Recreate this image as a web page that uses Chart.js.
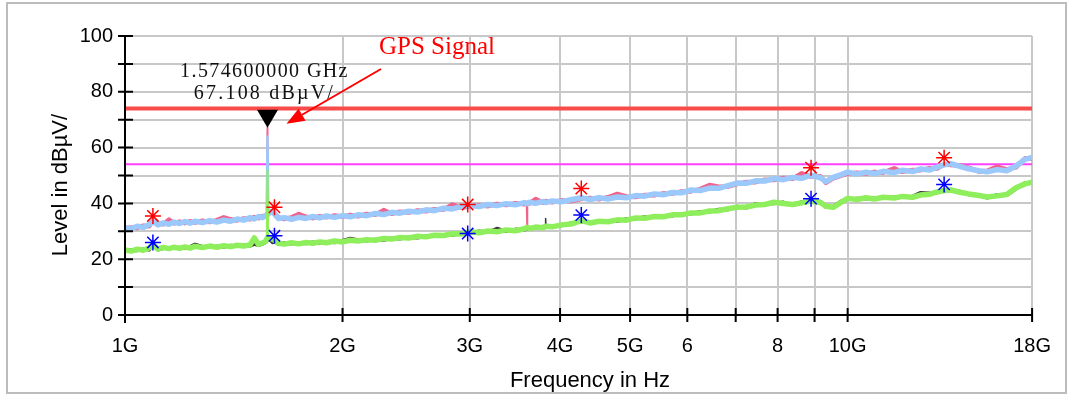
<!DOCTYPE html>
<html>
<head>
<meta charset="utf-8">
<title>Spektrum 1-18 GHz</title>
<script src="https://cdn.jsdelivr.net/npm/chart.js@4/dist/chart.umd.min.js"></script>
<style>
  body { margin: 0; background: #fff; }
  #wrap { width: 1070px; height: 397px; }
</style>
</head>
<body>
<div id="wrap"><canvas id="spektrum" width="1070" height="397"></canvas></div>

<script>
// frequenz in GHz, pegel in dBuV
var freqGHz = [1.00, 1.02, 1.04, 1.06, 1.08, 1.093, 1.11, 1.13, 1.15, 1.17,
  1.19, 1.21, 1.23, 1.25, 1.28, 1.31, 1.34, 1.37, 1.40, 1.43,
  1.46, 1.49, 1.51, 1.53, 1.55, 1.565, 1.5746, 1.585, 1.60, 1.615,
  1.63, 1.66, 1.70, 1.74, 1.78, 1.82, 1.86, 1.90, 1.95, 2.00,
  2.05, 2.10, 2.16, 2.22, 2.28, 2.34, 2.40, 2.47, 2.54, 2.61,
  2.68, 2.76, 2.84, 2.92, 3.00, 3.09, 3.18, 3.27, 3.37, 3.47,
  3.57, 3.60, 3.63, 3.70, 3.79, 3.82, 3.90, 4.02, 4.14, 4.28,
  4.40, 4.53, 4.66, 4.80, 4.94, 5.09, 5.24, 5.40, 5.56, 5.72,
  5.89, 6.07, 6.25, 6.44, 6.63, 6.83, 7.03, 7.24, 7.46, 7.68,
  7.91, 8.15, 8.39, 8.64, 8.90, 9.17, 9.33, 9.55, 9.80, 10.0,
  10.3, 10.6, 10.9, 11.2, 11.6, 11.9, 12.3, 12.6, 13.0, 13.3,
  13.6, 13.9, 14.3, 14.7, 15.2, 15.6, 16.1, 16.6, 17.1, 17.6, 18.0];

// max peak (hellblau)
var peakBlau = [31.3, 30.9, 31.8, 31.4, 32.4, 33.6, 32.3, 33.0, 32.5, 33.3,
  32.8, 33.5, 32.9, 33.6, 33.1, 33.8, 33.3, 34.0, 33.6, 34.4,
  34.0, 34.9, 34.4, 35.3, 34.9, 35.6, 36.0, 36.6, 37.2, 35.8,
  34.6, 34.9, 34.3, 35.0, 34.6, 35.3, 34.8, 35.5, 35.0, 35.6,
  35.2, 35.9, 35.6, 36.4, 36.0, 36.8, 36.5, 37.2, 36.9, 37.7,
  37.4, 38.3, 38.0, 38.9, 39.2, 38.9, 39.6, 39.2, 39.9, 39.5,
  40.3, 39.9, 40.4, 40.0, 40.7, 40.3, 40.9, 40.6, 41.3, 42.0,
  41.4, 42.0, 41.6, 42.3, 42.0, 42.8, 42.6, 43.4, 43.1, 43.9,
  43.8, 44.8, 44.6, 45.5, 45.4, 46.4, 47.3, 47.2, 48.1, 48.0,
  48.9, 48.5, 49.3, 49.0, 50.1, 49.2, 47.8, 49.3, 50.3, 51.2,
  50.5, 51.2, 50.7, 51.5, 51.0, 51.9, 51.4, 52.3, 52.0, 53.0,
  53.8, 54.3, 53.3, 52.4, 51.7, 51.3, 52.1, 51.7, 53.4, 55.8, 56.5];

// max peak (rosa, zweite messung)
var peakRosa = [31.0, 31.4, 31.2, 32.0, 31.8, 33.9, 32.8, 32.5, 34.2, 32.8,
  33.5, 32.9, 33.6, 33.1, 33.8, 33.3, 34.0, 35.0, 34.3, 33.9,
  34.6, 34.3, 35.1, 34.7, 35.5, 35.4, 36.4, 37.0, 36.8, 36.1,
  35.0, 34.4, 35.0, 36.2, 35.2, 34.7, 35.4, 35.0, 35.7, 35.2,
  35.9, 35.4, 36.2, 35.9, 37.6, 36.3, 37.0, 36.7, 37.5, 37.2,
  37.9, 37.8, 39.6, 38.5, 38.8, 39.4, 39.0, 39.8, 39.4, 40.1,
  39.7, 40.2, 40.0, 41.6, 40.2, 40.9, 40.4, 41.1, 40.8, 41.6,
  41.9, 41.5, 42.2, 43.4, 42.5, 42.3, 43.0, 42.9, 43.6, 43.5,
  44.3, 44.3, 45.1, 46.6, 46.0, 46.0, 46.9, 47.7, 47.6, 48.5,
  48.4, 49.1, 48.8, 50.8, 49.6, 49.7, 47.4, 49.0, 50.0, 50.7,
  51.0, 50.7, 51.3, 51.0, 52.6, 51.3, 52.0, 51.9, 52.6, 52.5,
  54.0, 53.8, 53.6, 52.8, 51.4, 51.7, 53.2, 52.2, 52.9, 56.2, 56.0];

// average (gruen)
var avgGruen = [23.3, 22.9, 23.6, 23.2, 24.0, 25.3, 23.7, 24.2, 23.8, 24.3,
  23.9, 24.4, 24.0, 24.6, 24.2, 24.7, 24.3, 24.8, 24.5, 25.0,
  24.7, 25.2, 27.6, 25.3, 25.8, 26.4, 27.8, 27.6, 27.2, 26.5,
  25.7, 25.4, 25.9, 25.5, 26.0, 25.7, 26.2, 25.9, 26.5, 26.2,
  26.8, 26.5, 27.0, 26.8, 27.4, 27.2, 27.8, 27.6, 28.2, 28.0,
  28.6, 28.5, 29.1, 29.0, 29.8, 29.5, 30.1, 29.8, 30.5, 30.2,
  30.9, 31.4, 31.0, 31.5, 31.3, 31.8, 31.6, 32.3, 32.6, 33.8,
  33.0, 33.6, 33.4, 34.1, 34.0, 34.8, 34.7, 35.3, 35.2, 35.9,
  35.9, 36.6, 36.6, 37.3, 37.4, 38.1, 38.6, 38.7, 39.4, 39.6,
  40.4, 40.0, 39.6, 40.2, 40.8, 40.3, 39.0, 38.6, 40.4, 41.8,
  41.4, 42.0, 41.6, 42.2, 41.9, 42.5, 42.2, 43.0, 43.3, 44.1,
  44.6, 44.8, 44.0, 43.4, 42.8, 42.3, 42.7, 43.2, 45.6, 47.0, 47.6];

// average (schwarz, zweite messung)
var avgSchwarz = [23.0, 23.3, 23.1, 23.6, 23.4, 25.6, 23.4, 23.9, 24.1, 23.9,
  24.2, 24.0, 24.4, 25.3, 24.5, 24.3, 24.6, 24.4, 24.9, 24.6,
  25.1, 24.8, 25.4, 25.0, 25.5, 26.0, 27.0, 27.2, 26.0, 26.2,
  25.4, 25.8, 25.5, 25.9, 25.6, 26.1, 25.8, 26.3, 26.0, 26.6,
  27.4, 26.9, 26.6, 27.1, 26.9, 27.5, 27.3, 27.9, 27.7, 28.3,
  28.2, 28.8, 28.7, 29.3, 29.4, 30.0, 29.7, 31.0, 30.0, 30.7,
  30.5, 30.9, 31.3, 31.1, 31.7, 31.4, 31.9, 32.1, 32.9, 33.5,
  33.3, 33.2, 33.8, 33.6, 34.4, 34.5, 35.1, 35.0, 35.6, 35.6,
  36.3, 36.3, 37.0, 37.0, 37.8, 37.8, 38.9, 38.4, 39.8, 39.9,
  40.0, 40.4, 39.3, 40.5, 40.5, 40.7, 38.7, 38.9, 40.8, 41.5,
  41.8, 41.7, 41.9, 42.0, 42.2, 42.3, 42.5, 43.8, 43.6, 43.9,
  44.9, 44.5, 44.3, 43.2, 43.1, 42.0, 43.0, 42.9, 45.2, 47.3, 47.2];

// schmale spitzen (GPS traeger, einzelne stoerer)
var spitzeFreq = [1.571, 1.5746, 1.578];
var spitzeRosa = [36.0, 67.1, 37.0];
var spitzeBlau = [35.6, 64.0, 36.6];
var spitzeGruen = [26.4, 52.0, 27.6];
var dipFreq = [3.594, 3.60, 3.606];
var dipRosa = [39.8, 31.5, 40.0];
var stoerFreq = [3.815, 3.82, 3.825];
var stoerSchwarz = [31.6, 34.6, 31.6];

// messpunkte (sterne)
var markFreq = [1.093, 1.61, 2.98, 4.28, 8.9, 13.6];
var markPeak = [35.5, 38.6, 39.6, 45.3, 52.8, 56.4];
var markAvg = [26.0, 28.4, 29.2, 35.8, 41.7, 46.8];

// grenzwerte
var limitFreq = [1, 18];
var limitPeak = [74, 74];
var limitAvg = [54, 54];

// achsen
var xTickVals = [1, 2, 3, 4, 5, 6, 7, 8, 9, 10, 18];
var xTickLabels = ['1G', '2G', '3G', '4G', '5G', '6', '', '8', '', '10G', '18G'];

// marker
var markerFreq = 1.5746;
var markerLevel = 67.108;
var markerText = ['1.574600000 GHz', '67.108 dB\u00b5V/'];

function punkte(xs, ys) {
  return xs.map(function (v, i) { return { x: v, y: ys[i] }; });
}

function linie(label, xs, ys, color, width) {
  return { label: label, data: punkte(xs, ys), borderColor: color, borderWidth: width,
    pointRadius: 0, fill: false, tension: 0, borderJoinStyle: 'round' };
}

function sterne(label, ys, color) {
  return { label: label, data: punkte(markFreq, ys), showLine: false, pointStyle: 'star',
    pointRadius: 8, borderColor: color, borderWidth: 1.5, backgroundColor: color };
}

var extras = {
  id: 'extras',
  beforeDraw: function (chart) {
    var ctx = chart.ctx;
    ctx.save();
    ctx.fillStyle = '#fff';
    ctx.fillRect(0, 0, chart.width, chart.height);
    ctx.strokeStyle = '#bcbcbc';
    ctx.lineWidth = 2;
    ctx.strokeRect(7, 3, 1059, 390);
    ctx.restore();
  },
  afterDraw: function (chart) {
    var ctx = chart.ctx, a = chart.chartArea, x = chart.scales.x, y = chart.scales.y;
    ctx.save();

    // achsen mit kreuzenden ticks
    ctx.strokeStyle = '#000';
    ctx.lineWidth = 2;
    ctx.beginPath();
    ctx.moveTo(a.left, a.top);
    ctx.lineTo(a.left, a.bottom + 8);
    ctx.moveTo(a.left, a.bottom);
    ctx.lineTo(a.right, a.bottom);
    y.ticks.forEach(function (t) {
      var py = y.getPixelForValue(t.value);
      ctx.moveTo(a.left - 7, py);
      ctx.lineTo(a.left + 8, py);
    });
    xTickVals.slice(1).forEach(function (v) {
      var px = x.getPixelForValue(v);
      ctx.moveTo(px, a.bottom - 7);
      ctx.lineTo(px, a.bottom + 7);
    });
    ctx.stroke();

    // achsentitel
    ctx.fillStyle = '#000';
    ctx.font = '22px "Liberation Sans", Arial, sans-serif';
    ctx.textAlign = 'center';
    ctx.textBaseline = 'alphabetic';
    ctx.fillText('Frequency in Hz', 590, 387);
    ctx.save();
    ctx.translate(67, 185);
    ctx.rotate(-Math.PI / 2);
    ctx.fillText('Level in dB\u00b5V/', 0, 0);
    ctx.restore();

    // marker dreieck
    var mx = x.getPixelForValue(markerFreq);
    var my = y.getPixelForValue(markerLevel);
    ctx.fillStyle = '#000';
    ctx.beginPath();
    ctx.moveTo(mx, my);
    ctx.lineTo(mx - 10.5, my - 18);
    ctx.lineTo(mx + 10.5, my - 18);
    ctx.closePath();
    ctx.fill();

    // marker text
    ctx.font = '20px "Liberation Serif", "Times New Roman", serif';
    ctx.fillStyle = '#111';
    if ('letterSpacing' in ctx) ctx.letterSpacing = '1.4px';
    ctx.fillText(markerText[0], mx - 3, my - 51);
    if ('letterSpacing' in ctx) ctx.letterSpacing = '2.2px';
    ctx.fillText(markerText[1], mx - 3, my - 29);
    if ('letterSpacing' in ctx) ctx.letterSpacing = '0px';

    // GPS hinweis mit pfeil
    ctx.fillStyle = '#ff0000';
    ctx.strokeStyle = '#ff0000';
    ctx.font = '25px "Liberation Serif", "Times New Roman", serif';
    ctx.textAlign = 'left';
    ctx.fillText('GPS Signal', 379, 54);

    var x0 = 381, y0 = 69, x1 = mx + 19, y1 = my - 4;
    var ang = Math.atan2(y1 - y0, x1 - x0);
    var hl = 18, hw = 7;
    ctx.lineWidth = 2;
    ctx.beginPath();
    ctx.moveTo(x0, y0);
    ctx.lineTo(x1 - hl * Math.cos(ang), y1 - hl * Math.sin(ang));
    ctx.stroke();
    ctx.beginPath();
    ctx.moveTo(x1, y1);
    ctx.lineTo(x1 - hl * Math.cos(ang) + hw * Math.sin(ang), y1 - hl * Math.sin(ang) - hw * Math.cos(ang));
    ctx.lineTo(x1 - hl * Math.cos(ang) - hw * Math.sin(ang), y1 - hl * Math.sin(ang) + hw * Math.cos(ang));
    ctx.closePath();
    ctx.fill();

    ctx.restore();
  }
};

var ctx = document.getElementById('spektrum').getContext('2d');
var grafico = new Chart(ctx, {
  type: 'line',
  data: {
    datasets: [
      sterne('Peak Marker', markPeak, '#ff0000'),
      sterne('Avg Marker', markAvg, '#0000ff'),
      linie('Average Spitze', spitzeFreq, spitzeGruen, '#8fee5c', 2),
      linie('Average', freqGHz, avgGruen, '#8fee5c', 5.5),
      linie('Average 2 Stoerer', stoerFreq, stoerSchwarz, '#3a3a3a', 1.5),
      linie('Average 2', freqGHz, avgSchwarz, '#3a3a3a', 3.5),
      linie('MaxPeak Spitze', spitzeFreq, spitzeBlau, '#9cc9fb', 2.5),
      linie('MaxPeak', freqGHz, peakBlau, '#9cc9fb', 5.5),
      linie('MaxPeak 2 Spitze', spitzeFreq, spitzeRosa, '#f0648c', 2),
      linie('MaxPeak 2 Dip', dipFreq, dipRosa, '#f0648c', 1.5),
      linie('MaxPeak 2', freqGHz, peakRosa, '#f0648c', 4.5),
      linie('Limit Peak', limitFreq, limitPeak, '#fa4b4b', 4),
      linie('Limit Avg', limitFreq, limitAvg, '#ff40ff', 2)
    ]
  },
  options: {
    responsive: false,
    animation: false,
    layout: { padding: { left: 0, top: 36, right: 36, bottom: 0 } },
    plugins: {
      legend: { display: false },
      tooltip: { enabled: false }
    },
    scales: {
      x: {
        type: 'logarithmic',
        position: 'bottom',
        min: 1,
        max: 18,
        afterBuildTicks: function (s) {
          s.ticks = xTickVals.map(function (v) { return { value: v }; });
        },
        afterFit: function (s) { s.height = 82; },
        ticks: {
          autoSkip: false,
          maxRotation: 0,
          padding: 19,
          color: '#000',
          font: { family: '"Liberation Sans", Arial, sans-serif', size: 20 },
          callback: function (v) {
            var i = xTickVals.indexOf(v);
            return i < 0 ? '' : xTickLabels[i];
          }
        },
        grid: { color: '#c8c8c8', lineWidth: 2, drawTicks: false },
        border: { display: false }
      },
      y: {
        min: 0,
        max: 100,
        afterFit: function (s) { s.width = 125; },
        ticks: {
          stepSize: 10,
          padding: 12,
          color: '#000',
          font: { family: '"Liberation Sans", Arial, sans-serif', size: 20 },
          callback: function (v) { return v % 20 === 0 ? v : ''; }
        },
        grid: { color: '#c8c8c8', lineWidth: 2, drawTicks: false },
        border: { display: false }
      }
    }
  },
  plugins: [extras]
});
</script>
</body>
</html>
